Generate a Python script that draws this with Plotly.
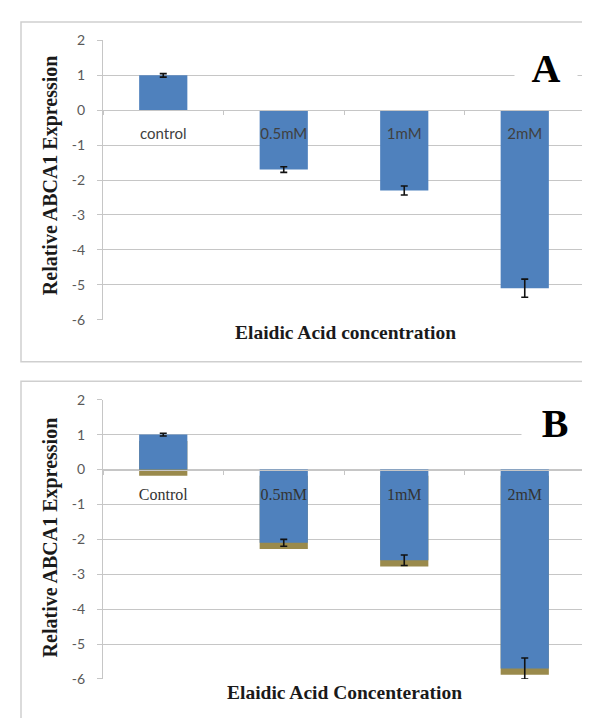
import plotly.graph_objects as go

# ---------------- data ----------------
categories_a = ["control", "0.5mM", "1mM", "2mM"]
values_a = [1.0, -1.7, -2.3, -5.1]
errors_a = [0.05, 0.08, 0.13, 0.26]

categories_b = ["Control", "0.5mM", "1mM", "2mM"]
values_b = [1.0, -2.1, -2.6, -5.7]
errors_b = [0.04, 0.10, 0.15, 0.30]

y_ticks = [2, 1, 0, -1, -2, -3, -4, -5, -6]
y_tick_labels = ["2", "1", "0", "-1", "-2", "-3", "-4", "-5", "-6"]
y_title = "Relative ABCA1 Expression"
x_title_a = "Elaidic Acid concentration"
x_title_b = "Elaidic Acid Concenteration"

# ---------------- style ----------------
W, H = 590, 718
BLUE = "#4f81bd"
SHADOW = "#9a8a4c"
GRID = "#c6c6c6"
TICKC = "#595959"
YMIN, YMAX = -6, 2
SHADOW_OFF = 0.18


def fx(px):
    return px / W


def fy(py):
    return 1 - py / H


dom_x = [fx(95), fx(577)]
dom_a = [fy(310), fy(24)]
dom_b = [fy(678), fy(392)]


def zero_pos(dom):
    return dom[0] + (0 - YMIN) / (YMAX - YMIN) * (dom[1] - dom[0])


fig = go.Figure()

err_style = dict(type="data", visible=True, color="#111111", thickness=1.6, width=3.5)

fig.add_trace(go.Bar(
    x=categories_a, y=values_a, xaxis="x", yaxis="y",
    marker=dict(color=BLUE, line=dict(width=0)),
    error_y=dict(array=errors_a, **err_style),
    cliponaxis=False, showlegend=False,
))

# drop shadow of panel B bars
fig.add_trace(go.Bar(
    x=categories_b, y=values_b, base=-SHADOW_OFF, xaxis="x2", yaxis="y2",
    marker=dict(color=SHADOW, line=dict(width=0)),
    hoverinfo="skip", cliponaxis=False, showlegend=False,
))
fig.add_trace(go.Bar(
    x=categories_b, y=values_b, xaxis="x2", yaxis="y2",
    marker=dict(color=BLUE, line=dict(width=0)),
    error_y=dict(array=errors_b, **err_style),
    cliponaxis=False, showlegend=False,
))

yaxis_common = dict(
    range=[YMIN, YMAX], tickvals=y_ticks, ticktext=y_tick_labels,
    showgrid=True, gridcolor=GRID, gridwidth=1.3,
    zeroline=False, showline=True, linecolor=GRID, linewidth=1.3,
    ticks="outside", ticklen=5, tickcolor=GRID, tickwidth=1.3,
    ticklabelstandoff=9,
    tickfont=dict(family="Lato", size=14, color=TICKC),
)
xaxis_common = dict(
    type="category", range=[-0.5, 3.5], domain=dom_x, anchor="free",
    showgrid=False, zeroline=False, showline=True, linecolor=GRID, linewidth=1.3,
    tickson="boundaries", ticks="outside", ticklen=4, tickcolor=GRID, tickwidth=1.3,
    ticklabelstandoff=10,
)

fig.update_layout(
    width=W, height=H, margin=dict(l=0, r=0, t=0, b=0),
    paper_bgcolor="white", plot_bgcolor="rgba(0,0,0,0)",
    barmode="overlay", bargap=0.6,
    xaxis=dict(**xaxis_common, position=zero_pos(dom_a),
               tickfont=dict(family="Lato", size=15, color="#404040")),
    yaxis=dict(**yaxis_common, domain=dom_a, anchor="x"),
    xaxis2=dict(**xaxis_common, position=zero_pos(dom_b),
                tickfont=dict(family="Liberation Serif", size=16, color="#333333")),
    yaxis2=dict(**yaxis_common, domain=dom_b, anchor="x2"),
)

# panel frames
for y0, y1 in [(fy(353), fy(5)), (fy(722), fy(373))]:
    fig.add_shape(type="rect", xref="paper", yref="paper",
                  x0=fx(13), x1=fx(585), y0=y0, y1=y1,
                  line=dict(color="#cfcfcf", width=1.5), fillcolor="rgba(0,0,0,0)", layer="below")

ytitle_font = dict(family="Liberation Serif", size=20, color="#1a1a1a")
xtitle_font = dict(family="Liberation Serif", size=19.5, color="#1a1a1a")
ann = [
    dict(text="<b>" + y_title + "</b>", x=fx(42), y=fy(162), textangle=-90, font=ytitle_font),
    dict(text="<b>" + y_title + "</b>", x=fx(42), y=fy(533), textangle=-90, font=ytitle_font),
    dict(text="<b>" + x_title_a + "</b>", x=fx(337), y=fy(323), font=xtitle_font),
    dict(text="<b>" + x_title_b + "</b>", x=fx(336), y=fy(692), font=xtitle_font),
]
for a in ann:
    fig.add_annotation(xref="paper", yref="paper", showarrow=False,
                       xanchor="center", yanchor="middle", **a)

# panel letters on white patches
fig.add_annotation(text="<b>A</b>", xref="paper", yref="paper", x=fx(538), y=fy(52),
                   showarrow=False, xanchor="center", yanchor="middle",
                   font=dict(family="Liberation Serif", size=40, color="black"),
                   bgcolor="white", width=60, height=64)
fig.add_annotation(text="<b>B</b>", xref="paper", yref="paper", x=fx(547), y=fy(416),
                   showarrow=False, xanchor="center", yanchor="middle",
                   font=dict(family="Liberation Serif", size=40, color="black"),
                   bgcolor="white", width=64, height=62)

fig.write_html("out.html")
